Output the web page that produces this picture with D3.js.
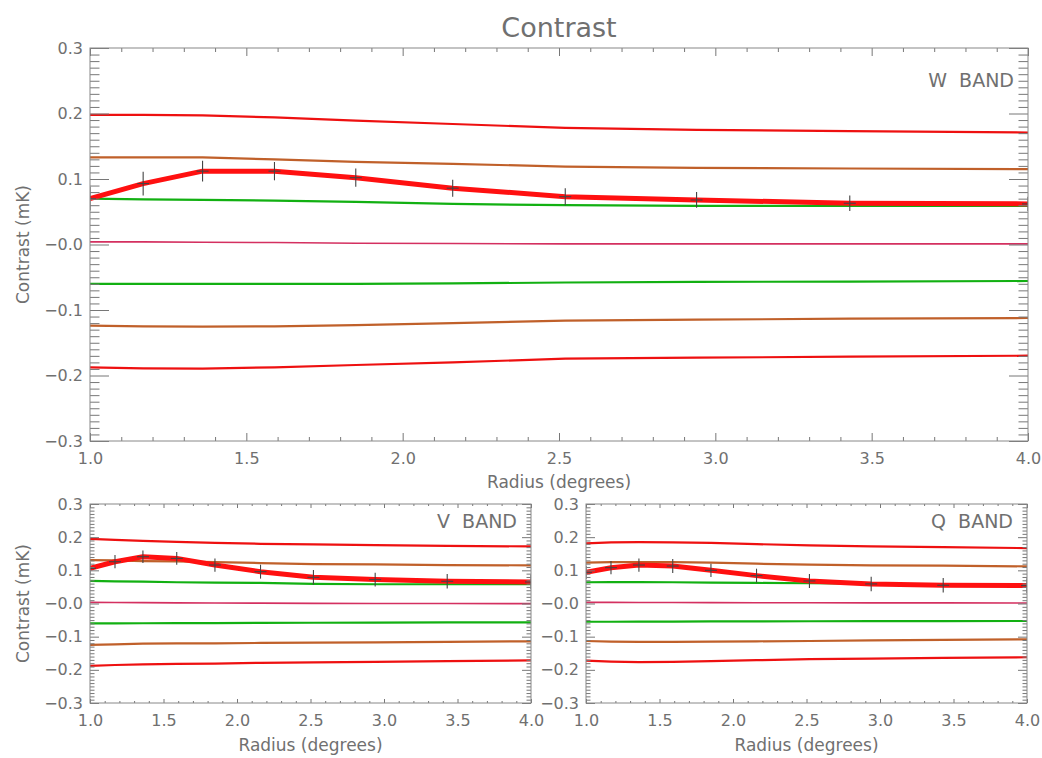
<!DOCTYPE html>
<html>
<head>
<meta charset="utf-8">
<script src="https://d3js.org/d3.v7.min.js"></script>
<style>
  body { margin: 0; background: #fff; }
  text { font-family: "DejaVu Sans", sans-serif; fill: #707070; }
</style>
</head>
<body>
<div id="chart"></div>
<script>
// radii of the measured points (degrees)
const radius = [1.00, 1.17, 1.36, 1.59, 1.85, 2.16, 2.52, 2.94, 3.43, 4.00];

// W band
const wData   = [0.070, 0.093, 0.112, 0.112, 0.102, 0.086, 0.073, 0.068, 0.063, 0.062];
const wErr    = [0.018, 0.018, 0.016, 0.014, 0.014, 0.013, 0.013, 0.012, 0.012, 0.011];
const wRed    = [0.198, 0.198, 0.197, 0.194, 0.189, 0.184, 0.178, 0.175, 0.173, 0.171];
const wBrown  = [0.133, 0.133, 0.133, 0.130, 0.126, 0.123, 0.119, 0.117, 0.116, 0.115];
const wGreen  = [0.070, 0.069, 0.068, 0.067, 0.065, 0.062, 0.060, 0.059, 0.059, 0.059];
const wZero   = [0.004, 0.004, 0.0035, 0.003, 0.002, 0.0015, 0.001, 0.001, 0.001, 0.001];
const wGreenN = [-0.060, -0.060, -0.060, -0.060, -0.060, -0.0595, -0.058, -0.057, -0.0567, -0.0557];
const wBrownN = [-0.124, -0.125, -0.1255, -0.125, -0.123, -0.120, -0.1163, -0.1148, -0.1133, -0.1122];
const wRedN   = [-0.1875, -0.189, -0.1896, -0.1875, -0.184, -0.180, -0.1743, -0.1728, -0.1713, -0.1698];

// V band
const vData   = [0.106, 0.126, 0.141, 0.136, 0.116, 0.096, 0.079, 0.072, 0.067, 0.065];
const vErr    = [0.020, 0.020, 0.019, 0.019, 0.020, 0.021, 0.022, 0.021, 0.022, 0.022];
const vRed    = [0.195, 0.192, 0.189, 0.186, 0.183, 0.180, 0.178, 0.176, 0.174, 0.172];
const vBrown  = [0.131, 0.130, 0.128, 0.127, 0.125, 0.122, 0.119, 0.118, 0.116, 0.115];
const vGreen  = [0.068, 0.067, 0.066, 0.064, 0.063, 0.062, 0.059, 0.058, 0.058, 0.058];
const vZero   = [0.0035, 0.003, 0.0025, 0.002, 0.0015, 0.001, 0.0005, 0, 0, -0.0005];
const vGreenN = [-0.060, -0.060, -0.0595, -0.059, -0.059, -0.0585, -0.058, -0.0575, -0.057, -0.0567];
const vBrownN = [-0.125, -0.123, -0.121, -0.1205, -0.120, -0.119, -0.118, -0.117, -0.1155, -0.114];
const vRedN   = [-0.188, -0.1855, -0.1835, -0.182, -0.181, -0.179, -0.1775, -0.176, -0.174, -0.1715];

// Q band
const qData   = [0.094, 0.108, 0.116, 0.113, 0.100, 0.084, 0.068, 0.059, 0.055, 0.054];
const qErr    = [0.020, 0.020, 0.020, 0.021, 0.020, 0.021, 0.021, 0.022, 0.022, 0.022];
const qRed    = [0.181, 0.184, 0.185, 0.184, 0.183, 0.179, 0.175, 0.172, 0.170, 0.167];
const qBrown  = [0.123, 0.1245, 0.125, 0.1245, 0.123, 0.120, 0.117, 0.115, 0.114, 0.112];
const qGreen  = [0.064, 0.0645, 0.0645, 0.064, 0.063, 0.062, 0.061, 0.0595, 0.058, 0.0567];
const qZero   = [0.0035, 0.0033, 0.003, 0.0028, 0.0026, 0.0024, 0.0022, 0.002, 0.0018, 0.0015];
const qGreenN = [-0.055, -0.055, -0.0548, -0.0545, -0.054, -0.0538, -0.0535, -0.0532, -0.053, -0.0528];
const qBrownN = [-0.113, -0.115, -0.116, -0.1155, -0.115, -0.114, -0.113, -0.111, -0.1095, -0.108];
const qRedN   = [-0.172, -0.175, -0.177, -0.176, -0.174, -0.171, -0.168, -0.166, -0.164, -0.162];

// axis ticks
const xTickVals   = [1.0, 1.5, 2.0, 2.5, 3.0, 3.5, 4.0];
const xTickLabels = ["1.0", "1.5", "2.0", "2.5", "3.0", "3.5", "4.0"];
const yTickVals   = [-0.3, -0.2, -0.1, 0, 0.1, 0.2, 0.3];
const yTickLabels = ["\u22120.3", "\u22120.2", "\u22120.1", "\u22120.0", "0.1", "0.2", "0.3"];

const RED = "#ee1010", BROWN = "#c0602a", GREEN = "#12b012", PINK = "#d43060";

const width = 1042, height = 758;
const svg = d3.select("#chart").append("svg")
  .attr("width", width).attr("height", height);

svg.append("text")
  .attr("x", 559).attr("y", 37)
  .attr("text-anchor", "middle")
  .style("font-size", "27px")
  .text("Contrast");

const panels = [
  { id: "w", label: "W  BAND", x0: 90, x1: 1028, y0: 48, y1: 441, ylabel: true,
    data: wData, err: wErr,
    models: [[wRedN, RED], [wBrownN, BROWN], [wGreenN, GREEN], [wZero, PINK], [wGreen, GREEN], [wBrown, BROWN], [wRed, RED]],
    labY: 39, xlabY: 488, tickPad: 12 },
  { id: "v", label: "V  BAND", x0: 90, x1: 531, y0: 504, y1: 703, ylabel: true,
    data: vData, err: vErr,
    models: [[vRedN, RED], [vBrownN, BROWN], [vGreenN, GREEN], [vZero, PINK], [vGreen, GREEN], [vBrown, BROWN], [vRed, RED]],
    labY: 24, xlabY: 751, tickPad: 12 },
  { id: "q", label: "Q  BAND", x0: 586, x1: 1027, y0: 504, y1: 703, ylabel: false,
    data: qData, err: qErr,
    models: [[qRedN, RED], [qBrownN, BROWN], [qGreenN, GREEN], [qZero, PINK], [qGreen, GREEN], [qBrown, BROWN], [qRed, RED]],
    labY: 24, xlabY: 751, tickPad: 12 }
];

panels.forEach(drawPanel);

function drawPanel(p) {
  const x = d3.scaleLinear().domain([1, 4]).range([p.x0, p.x1]);
  const y = d3.scaleLinear().domain([-0.3, 0.3]).range([p.y1, p.y0]);
  const pw = p.x1 - p.x0, ph = p.y1 - p.y0;

  // tick lengths like IDL ticklen 0.02
  const yMaj = Math.round(0.02 * pw), yMin = yMaj / 2;
  const xMaj = Math.round(0.02 * ph), xMin = xMaj / 2;

  const xMinor = d3.range(1, 4.001, 0.1).filter(v => Math.abs(v * 2 - Math.round(v * 2)) > 1e-6);
  const yMinor = d3.range(-0.3, 0.3001, 0.01).filter(v => Math.abs(v * 10 - Math.round(v * 10)) > 1e-6);

  const g = svg.append("g");

  const clipId = "clip-" + p.id;
  svg.append("clipPath").attr("id", clipId)
    .append("rect").attr("x", p.x0).attr("y", p.y0).attr("width", pw).attr("height", ph);

  const plot = g.append("g").attr("clip-path", "url(#" + clipId + ")");

  const line = d3.line().x((d, i) => x(radius[i])).y(d => y(d));

  p.models.forEach(([vals, col]) => {
    plot.append("path")
      .attr("d", line(vals))
      .attr("fill", "none")
      .attr("stroke", col)
      .attr("stroke-width", col === PINK ? 1.6 : 2.2);
  });

  plot.append("path")
    .attr("d", line(p.data))
    .attr("fill", "none")
    .attr("stroke", "#ff1010")
    .attr("stroke-width", 5)
    .attr("stroke-linejoin", "round");

  // error bars and plus symbols
  const pts = plot.selectAll(".pt").data(p.data).enter().append("g");
  pts.append("line")
    .attr("x1", (d, i) => x(radius[i])).attr("x2", (d, i) => x(radius[i]))
    .attr("y1", (d, i) => y(d + p.err[i])).attr("y2", (d, i) => y(d - p.err[i]))
    .attr("stroke", "#444").attr("stroke-width", 1.1);
  pts.append("line")
    .attr("x1", (d, i) => x(radius[i]) - 6).attr("x2", (d, i) => x(radius[i]) + 6)
    .attr("y1", d => y(d)).attr("y2", d => y(d))
    .attr("stroke", "#444").attr("stroke-width", 1.1);

  // axes
  const axisStyle = sel => {
    sel.select(".domain").remove();
    sel.selectAll("line").attr("stroke", "#777");
    sel.selectAll("text").attr("fill", "#707070").style("font-size", "16px").style("font-family", "DejaVu Sans, sans-serif");
  };

  g.append("g").attr("transform", `translate(0,${p.y1})`)
    .call(d3.axisBottom(x).tickValues(xTickVals).tickSize(-xMaj).tickPadding(p.tickPad)
      .tickFormat((d, i) => xTickLabels[i]))
    .call(axisStyle);
  g.append("g").attr("transform", `translate(0,${p.y1})`)
    .call(d3.axisBottom(x).tickValues(xMinor).tickSize(-xMin).tickFormat(""))
    .call(axisStyle);
  g.append("g").attr("transform", `translate(0,${p.y0})`)
    .call(d3.axisTop(x).tickValues(xTickVals).tickSize(-xMaj).tickFormat(""))
    .call(axisStyle);
  g.append("g").attr("transform", `translate(0,${p.y0})`)
    .call(d3.axisTop(x).tickValues(xMinor).tickSize(-xMin).tickFormat(""))
    .call(axisStyle);

  g.append("g").attr("transform", `translate(${p.x0},0)`)
    .call(d3.axisLeft(y).tickValues(yTickVals).tickSize(-yMaj).tickPadding(7)
      .tickFormat((d, i) => yTickLabels[i]))
    .call(axisStyle);
  g.append("g").attr("transform", `translate(${p.x0},0)`)
    .call(d3.axisLeft(y).tickValues(yMinor).tickSize(-yMin).tickFormat(""))
    .call(axisStyle);
  g.append("g").attr("transform", `translate(${p.x1},0)`)
    .call(d3.axisRight(y).tickValues(yTickVals).tickSize(-yMaj).tickFormat(""))
    .call(axisStyle);
  g.append("g").attr("transform", `translate(${p.x1},0)`)
    .call(d3.axisRight(y).tickValues(yMinor).tickSize(-yMin).tickFormat(""))
    .call(axisStyle);

  g.append("rect")
    .attr("x", p.x0).attr("y", p.y0).attr("width", pw).attr("height", ph)
    .attr("fill", "none").attr("stroke", "#888").attr("stroke-width", 1);

  g.append("text")
    .attr("x", p.x1 - 14).attr("y", p.y0 + p.labY)
    .attr("text-anchor", "end")
    .style("font-size", "19px")
    .style("white-space", "pre")
    .text(p.label);

  g.append("text")
    .attr("x", (p.x0 + p.x1) / 2).attr("y", p.xlabY)
    .attr("text-anchor", "middle")
    .style("font-size", "17px")
    .text("Radius (degrees)");

  if (p.ylabel) {
    g.append("text")
      .attr("transform", `translate(29,${(p.y0 + p.y1) / 2}) rotate(-90)`)
      .attr("text-anchor", "middle")
      .style("font-size", "17px")
      .text("Contrast (mK)");
  }
}
</script>
</body>
</html>
